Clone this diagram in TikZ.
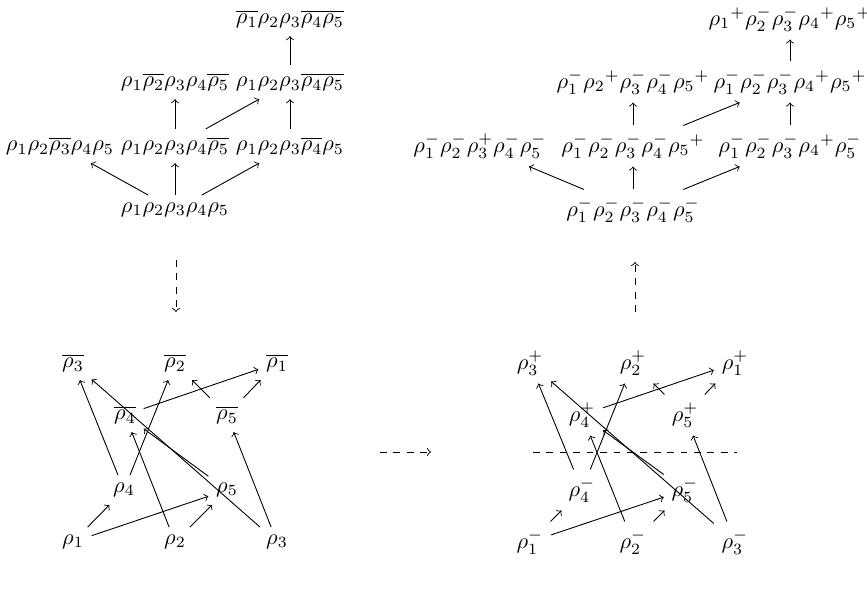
\documentclass[tikz,border=0pt]{standalone}
\tikzset{
  lbl/.style={inner sep=0.333em},
  edge/.style={->},
  flow/.style={->,dashed}
}
\begin{document}
\begin{tikzpicture}[x=0.447pt,y=-0.447pt,>=to]
			%%%%% START %%%%%
			\useasboundingbox (0,0) rectangle (867,606);

			% left lattice
			\node[lbl] (lt)  at (290, 19)  {$\overline{\rho_1}\rho_2\rho_3\overline{\rho_4\rho_5}$};
			\node[lbl] (l2a) at (175, 82)  {$\rho_1\overline{\rho_2}\rho_3\rho_4\overline{\rho_5}$};
			\node[lbl] (l2b) at (290, 82)  {$\rho_1\rho_2\rho_3\overline{\rho_4\rho_5}$};
			\node[lbl] (l3a) at (60, 146)  {$\rho_1\rho_2\overline{\rho_3}\rho_4\rho_5$};
			\node[lbl] (l3b) at (175, 146) {$\rho_1\rho_2\rho_3\rho_4\overline{\rho_5}$};
			\node[lbl] (l3c) at (290, 146) {$\rho_1\rho_2\rho_3\overline{\rho_4}\rho_5$};
			\node[lbl] (lb)  at (175, 210) {$\rho_1\rho_2\rho_3\rho_4\rho_5$};

			\draw[edge] (lb) -- (l3a);
			\draw[edge] (lb) -- (l3b);
			\draw[edge] (lb) -- (l3c);
			\draw[edge] (l3b) -- (l2a);
			\draw[edge] (l3b) -- (l2b);
			\draw[edge] (l3c) -- (l2b);
			\draw[edge] (l2b) -- (lt);

			% right lattice
			\node[lbl] (rt)  at (790, 19)  {${\rho_1}^+\rho_2^-\rho_3^-{\rho_4}^+{\rho_5}^+$};
			\node[lbl] (r2a) at (633, 82)  {$\rho_1^-{\rho_2}^+\rho_3^-\rho_4^-{\rho_5}^+$};
			\node[lbl] (r2b) at (790, 82)  {$\rho_1^-\rho_2^-\rho_3^-{\rho_4}^+{\rho_5}^+$};
			\node[lbl] (r3a) at (480, 146) {$\rho_1^-\rho_2^-\rho_3^+\rho_4^-\rho_5^-$};
			\node[lbl] (r3b) at (633, 146) {$\rho_1^-\rho_2^-\rho_3^-\rho_4^-{\rho_5}^+$};
			\node[lbl] (r3c) at (790, 146) {$\rho_1^-\rho_2^-\rho_3^-{\rho_4}^+\rho_5^-$};
			\node[lbl] (rb)  at (633, 210) {$\rho_1^-\rho_2^-\rho_3^-\rho_4^-\rho_5^-$};

			\draw[edge] (rb) -- (r3a);
			\draw[edge] (rb) -- (r3b);
			\draw[edge] (rb) -- (r3c);
			\draw[edge] (r3b) -- (r2a);
			\draw[edge] (r3b) -- (r2b);
			\draw[edge] (r3c) -- (r2b);
			\draw[edge] (r2b) -- (rt);

			% dashed links
			\coordinate (ldtop) at (176, 260);
			\coordinate (ldbot) at (176, 312);
			\coordinate (rdtop) at (635, 262);
			\coordinate (rdbot) at (635, 312);
			\coordinate (mid1) at (380, 452);
			\coordinate (mid2) at (431, 452);
			\draw[flow] (ldtop) -- (ldbot);
			\draw[flow] (rdbot) -- (rdtop);
			\draw[flow] (mid1) -- (mid2);

			% left graph
			\node[lbl] (a3) at (73, 363)  {$\overline{\rho_3}$};
			\node[lbl] (a2) at (175, 363) {$\overline{\rho_2}$};
			\node[lbl] (a1) at (277, 363) {$\overline{\rho_1}$};
			\node[lbl] (a4) at (125, 415) {$\overline{\rho_4}$};
			\node[lbl] (a5) at (227, 415) {$\overline{\rho_5}$};
			\node[lbl] (b4) at (124, 490) {$\rho_4$};
			\node[lbl] (b5) at (227, 490) {$\rho_5$};
			\node[lbl] (b1) at (73, 542)  {$\rho_1$};
			\node[lbl] (b2) at (175, 542) {$\rho_2$};
			\node[lbl] (b3) at (277, 542) {$\rho_3$};

			\draw[edge] (b1) -- (b4);
			\draw[edge] (b1) -- (b5);
			\draw[edge] (b2) -- (b5);
			\draw[edge] (b2) -- (a4);
			\draw[edge] (b3) -- (a5);
			\draw[edge] (b3) -- (a3);
			\draw[edge] (b5) -- (a4);
			\draw[edge] (b4) -- (a3);
			\draw[edge] (b4) -- (a2);
			\draw[edge] (a4) -- (a1);
			\draw[edge] (a5) -- (a2);
			\draw[edge] (a5) -- (a1);

			% right graph
			\node[lbl] (p3) at (530, 363) {$\rho_3^+$};
			\node[lbl] (p2) at (633, 363) {$\rho_2^+$};
			\node[lbl] (p1) at (735, 363) {$\rho_1^+$};
			\node[lbl] (p4) at (582, 415) {$\rho_4^+$};
			\node[lbl] (p5) at (685, 415) {$\rho_5^+$};
			\node[lbl] (m4) at (582, 490) {$\rho_4^-$};
			\node[lbl] (m5) at (685, 490) {$\rho_5^-$};
			\node[lbl] (m1) at (530, 542) {$\rho_1^-$};
			\node[lbl] (m2) at (633, 542) {$\rho_2^-$};
			\node[lbl] (m3) at (735, 542) {$\rho_3^-$};

			\draw[edge] (m1) -- (m4);
			\draw[edge] (m1) -- (m5);
			\draw[edge] (m2) -- (m5);
			\draw[edge] (m2) -- (p4);
			\draw[edge] (m3) -- (p5);
			\draw[edge] (m3) -- (p3);
			\draw[edge] (m5) -- (p4);
			\draw[edge] (m4) -- (p3);
			\draw[edge] (m4) -- (p2);
			\draw[edge] (p4) -- (p1);
			\draw[edge] (p5) -- (p2);
			\draw[edge] (p5) -- (p1);

			\coordinate (cut1) at (533, 452);
			\coordinate (cut2) at (737, 452);
			\draw[dashed] (cut1) -- (cut2);
			%%%%% END %%%%%
\end{tikzpicture}
\end{document}
